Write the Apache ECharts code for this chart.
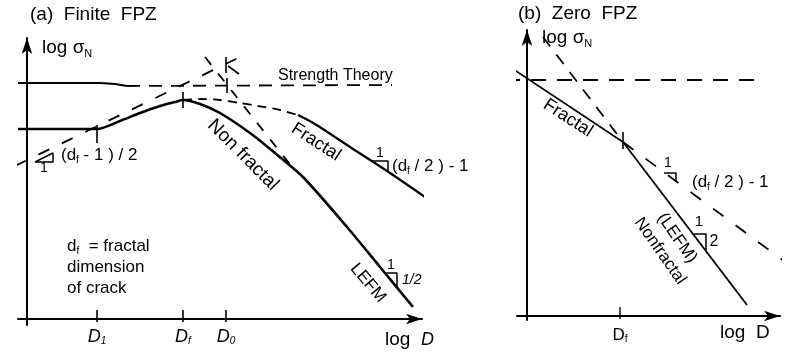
<!DOCTYPE html>
<html>
<head>
<meta charset="utf-8">
<script src="https://cdn.jsdelivr.net/npm/echarts@6/dist/echarts.min.js"></script>
<style>
  html, body { margin: 0; padding: 0; background: #fff; }
  #chart { width: 798px; height: 356px; }
</style>
</head>
<body>
<div id="chart"></div>
<script>
// values: x = log D from the y axis, y = log sigma_N above the x axis (pixel units)

// panel (a) finite FPZ
const aStrengthSolidX = [-9, 73, 88, 100]
const aStrengthSolidY = [236, 236, 235, 233]
const aStrengthDashX = [100, 365]
const aStrengthDashY = [233, 234]
const aNonFractalX = [-9, 70, 93, 113, 133, 148, 156, 173, 193, 223, 248, 276, 320, 353, 386]
const aNonFractalY = [190, 190, 198, 206, 213, 217, 219, 215, 206, 186, 166, 142, 92, 52, 12]
const aFractalDashX = [156, 173, 193, 213, 231, 253, 271]
const aFractalDashY = [219, 220, 219, 216, 213, 209, 204]
const aFractalX = [271, 288, 323, 363, 398]
const aFractalY = [204, 195, 172, 146, 122]
const aSmallAsymX = [-12, 213]
const aSmallAsymY = [153, 262]
const aLefmAsymX = [178, 265]
const aLefmAsymY = [262, 152]
const aCurveTickX = [70, 156, 200, 199]
const aCurveTickLo = [176, 211, 226, 246]
const aCurveTickHi = [194, 227, 241, 262]
const aKArm = [[201, 253], [212, 245]]
const aAxisTicks = [70, 156, 199]
const aAxisLabels = ['D|1', 'D|f', 'D|0']
const aSlopeA = [[8, 157], [26, 157], [26, 166], [8, 157]]
const aSlopeFractal = [[345, 158], [361, 158], [361, 148]]
const aSlopeLefm = [[358, 46], [370, 46], [370, 32]]

// panel (b) zero FPZ
const bStrengthX = [-22, 230]
const bStrengthY = [236, 236]
const bFractalX = [-17, 96]
const bFractalY = [249, 174]
const bLefmX = [96, 220]
const bLefmY = [174, 11]
const bLefmDashX = [16, 96]
const bLefmDashY = [279, 174]
const bFractalDashX = [96, 265]
const bFractalDashY = [174, 49]
const bCurveTickX = [96]
const bCurveTickLo = [167]
const bCurveTickHi = [184]
const bAxisTicks = [93]
const bAxisLabels = ['D|f']
const bSlopeFractal = [[137, 143], [149, 143], [149, 134]]
const bSlopeLefm = [[167, 82], [179, 82], [179, 66]]

const pts = (xs, ys) => xs.map((x, i) => [x, ys[i]])

const line = (grid, data, opts = {}) => ({
  type: 'line',
  xAxisIndex: grid,
  yAxisIndex: grid,
  data,
  symbol: 'none',
  clip: false,
  silent: true,
  smooth: opts.smooth || false,
  lineStyle: {
    color: '#000',
    width: opts.width || 2,
    type: opts.dash || 'solid',
    cap: 'butt'
  },
  z: 3
})

const series = [
  line(0, pts(aStrengthSolidX, aStrengthSolidY), { width: 2.2 }),
  line(0, pts(aStrengthDashX, aStrengthDashY), { width: 1.8, dash: [13, 9] }),
  line(0, pts(aNonFractalX, aNonFractalY), { width: 2.6, smooth: 0.25 }),
  line(0, pts(aFractalDashX, aFractalDashY), { width: 1.8, dash: [9, 6], smooth: 0.3 }),
  line(0, pts(aFractalX, aFractalY), { width: 2.2, smooth: 0.3 }),
  line(0, pts(aSmallAsymX, aSmallAsymY), { width: 1.8, dash: [12, 14] }),
  line(0, pts(aLefmAsymX, aLefmAsymY), { width: 1.8, dash: [10, 11] }),
  line(0, aKArm, { width: 1.6 }),
  line(0, aSlopeA, { width: 1.5 }),
  line(0, aSlopeFractal, { width: 1.5 }),
  line(0, aSlopeLefm, { width: 1.5 }),
  line(1, pts(bStrengthX, bStrengthY), { width: 1.8, dash: [15, 11] }),
  line(1, pts(bFractalX, bFractalY), { width: 1.8 }),
  line(1, pts(bLefmX, bLefmY), { width: 1.8 }),
  line(1, pts(bLefmDashX, bLefmDashY), { width: 1.8, dash: [12, 10] }),
  line(1, pts(bFractalDashX, bFractalDashY), { width: 1.8, dash: [13, 15] }),
  line(1, bSlopeFractal, { width: 1.5 }),
  line(1, bSlopeLefm, { width: 1.5 })
]

aCurveTickX.forEach((x, i) => {
  series.push(line(0, [[x, aCurveTickLo[i]], [x, aCurveTickHi[i]]], { width: 1.6 }))
})
aAxisTicks.forEach(x => series.push(line(0, [[x, -3], [x, 9]], { width: 1.6 })))
bCurveTickX.forEach((x, i) => {
  series.push(line(1, [[x, bCurveTickLo[i]], [x, bCurveTickHi[i]]], { width: 1.6 }))
})
bAxisTicks.forEach(x => series.push(line(1, [[x, -3], [x, 9]], { width: 1.4 })))

const FONT = '"Liberation Sans", Arial, Helvetica, sans-serif'

const rich = {
  t: { fontFamily: FONT, fontSize: 19, lineHeight: 22, color: '#000' },
  i: { fontFamily: FONT, fontSize: 18, lineHeight: 18, fontStyle: 'italic', color: '#000' },
  s: { fontFamily: FONT, fontSize: 11, lineHeight: 12, verticalAlign: 'bottom', color: '#000' },
  si: { fontFamily: FONT, fontSize: 10, lineHeight: 8, verticalAlign: 'bottom', fontStyle: 'italic', color: '#000' },
  u: { fontFamily: FONT, fontSize: 17, lineHeight: 18, color: '#000' },
  us: { fontFamily: FONT, fontSize: 10, lineHeight: 8, verticalAlign: 'bottom', color: '#000' },
  m: { fontFamily: FONT, fontSize: 17, lineHeight: 20, color: '#000' },
  ms: { fontFamily: FONT, fontSize: 10, lineHeight: 11, verticalAlign: 'bottom', color: '#000' }
}

const axisCommon = () => ({
  type: 'value',
  splitLine: { show: false },
  axisTick: { show: false },
  axisLine: {
    show: true,
    onZero: true,
    symbol: ['none', 'arrow'],
    symbolSize: [8, 16],
    lineStyle: { color: '#000', width: 2 }
  }
})

const labelFmt = (ticks, labels, italic) => (v) => {
  const k = ticks.indexOf(v)
  if (k < 0) return ''
  const [a, b] = labels[k].split('|')
  return italic ? `{i|${a}}{si|${b}}` : `{u|${a}}{us|${b}}`
}

const txt = (x, y, text, o = {}) => ({
  type: 'text',
  x, y,
  rotation: (o.rot || 0) * Math.PI / 180,
  silent: true,
  style: {
    text,
    fill: '#000',
    font: `${o.italic ? 'italic ' : ''}${o.size || 19}px ${FONT}`,
    textAlign: o.rot ? 'center' : (o.align || 'left'),
    textVerticalAlign: 'middle',
    rich
  }
})

const option = {
  backgroundColor: '#fff',
  animation: false,
  grid: [
    { left: 18, top: 38, width: 404, height: 287 },
    { left: 517, top: 30, width: 263, height: 290 }
  ],
  xAxis: [
    Object.assign(axisCommon(), {
      gridIndex: 0, min: -9, max: 395,
      axisLabel: {
        show: true, margin: 3, customValues: aAxisTicks,
        formatter: labelFmt(aAxisTicks, aAxisLabels, true), rich
      }
    }),
    Object.assign(axisCommon(), {
      gridIndex: 1, min: -10, max: 253,
      axisLabel: {
        show: true, margin: 6, customValues: bAxisTicks,
        formatter: labelFmt(bAxisTicks, bAxisLabels, false), rich
      }
    })
  ],
  yAxis: [
    Object.assign(axisCommon(), { gridIndex: 0, min: -6, max: 281, axisLabel: { show: false } }),
    Object.assign(axisCommon(), { gridIndex: 1, min: -4, max: 286, axisLabel: { show: false } })
  ],
  series,
  graphic: [
    // panel (a)
    txt(30, 15, '(a)  Finite  FPZ'),
    txt(42, 48, '{t|log σ}{s|N}'),
    txt(278, 76, 'Strength Theory', { size: 16 }),
    txt(243, 155, 'Non fractal', { rot: -45, size: 19 }),
    txt(316, 142, 'Fractal', { rot: -33, size: 18 }),
    txt(368, 283, 'LEFM', { rot: -50, size: 17 }),
    txt(67, 246, '{m|d}{ms|f}{m|  = fractal}', { size: 17 }),
    txt(67, 267, 'dimension', { size: 17 }),
    txt(67, 288, 'of crack', { size: 17 }),
    txt(61, 155, '{m|(d}{ms|f}{m| - 1 ) / 2}', { size: 17 }),
    txt(44, 168, '1', { size: 14, align: 'center' }),
    txt(380, 153, '1', { size: 14, align: 'center' }),
    txt(392, 166, '{m|(d}{ms|f}{m| / 2 ) - 1}', { size: 17 }),
    txt(391, 265, '1', { size: 14, align: 'center' }),
    txt(402, 280, '1/2', { size: 14, italic: true }),
    txt(385, 340, '{t|log  }{i|D}'),
    // panel (b)
    txt(518, 14, '(b)  Zero  FPZ'),
    txt(542, 38, '{t|log σ}{s|N}'),
    txt(568, 118, 'Fractal', { rot: -33, size: 18 }),
    txt(677, 238, '(LEFM)', { rot: -55, size: 17 }),
    txt(660, 251, 'Nonfractal', { rot: -55, size: 17 }),
    txt(668, 163, '1', { size: 14, align: 'center' }),
    txt(692, 182, '{m|(d}{ms|f}{m| / 2 ) - 1}', { size: 17 }),
    txt(699, 222, '1', { size: 15, align: 'center' }),
    txt(714, 242, '2', { size: 16, align: 'center' }),
    txt(720, 333, '{t|log  D}')
  ]
}

const chart = echarts.init(document.getElementById('chart'))
chart.setOption(option)
</script>
</body>
</html>
